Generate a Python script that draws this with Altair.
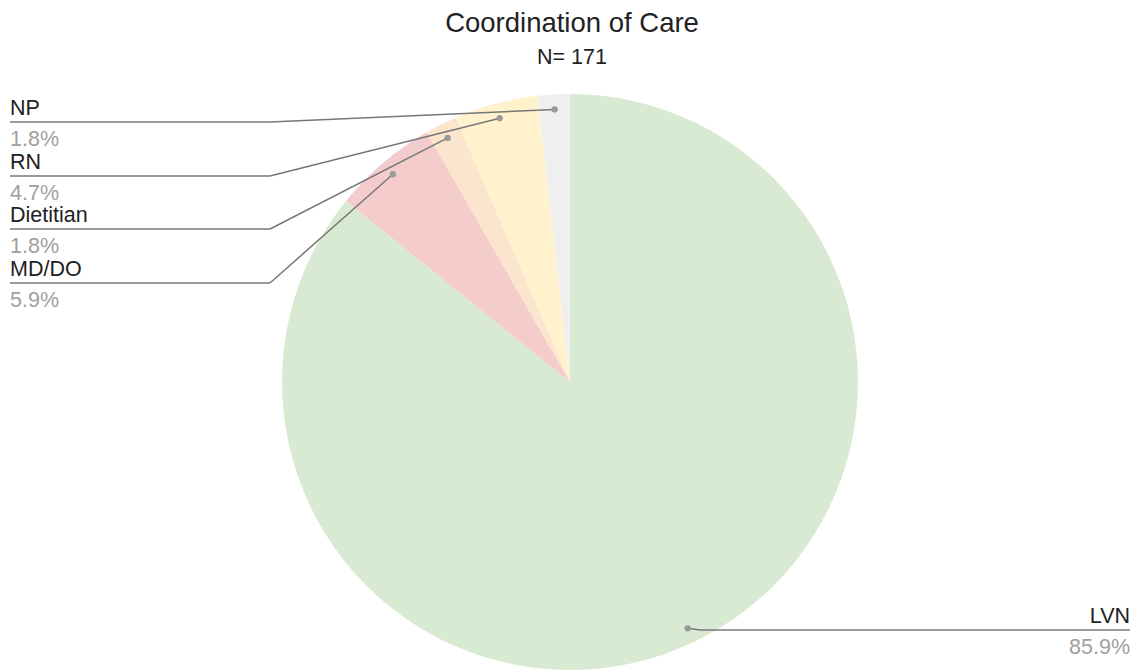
import altair as alt
import pandas as pd

# ---- data ----
categories = ["LVN", "MD/DO", "Dietitian", "RN", "NP"]
percentages = [85.9, 5.9, 1.8, 4.7, 1.8]
colors = ["#d9ead3", "#f4cccc", "#fce5cd", "#fff2cc", "#efefef"]

# ---- label layout (styling, not data) ----
label_side = ["right", "left", "left", "left", "left"]
label_line_y = [630, 283, 229, 176, 122]
knee_x = [700, 270, 270, 270, 270]
end_x = [1130, 10, 10, 10, 10]

W, H, TOP = 1136, 672, 75
CX, CY, R, DOT_R = 570, 382, 288, 273
FONT = "Liberation Sans"
LABEL_SIZE = 21.5

df = pd.DataFrame({
    "category": categories,
    "value": percentages,
    "idx": list(range(len(categories))),
    "side": label_side,
    "ly": label_line_y,
    "kx": knee_x,
    "ex": end_x,
})

xs = alt.Scale(domain=[0, W], nice=False, zero=False)
ys = alt.Scale(domain=[TOP, H], nice=False, zero=False, reverse=True)

base = (
    alt.Chart(df)
    .transform_joinaggregate(total="sum(value)")
    .transform_window(cum="sum(value)", sort=[alt.SortField("idx")], frame=[None, 0])
    .transform_calculate(
        mid="(datum.cum - datum.value / 2) / datum.total * 2 * PI",
        dx=f"{CX} + {DOT_R} * sin(datum.mid)",
        dy=f"{CY} - {DOT_R} * cos(datum.mid)",
        ny="datum.ly - 7.5",
        py="datum.ly + 23.5",
        pct="format(datum.value, '.1f') + '%'",
    )
)

pie = alt.Chart(df).mark_arc(outerRadius=R).encode(
    theta=alt.Theta("value:Q", stack=True),
    order=alt.Order("idx:Q", sort="ascending"),
    color=alt.Color("category:N", scale=alt.Scale(domain=categories, range=colors), legend=None),
    x=alt.value(CX),
    y=alt.value(CY - TOP),
)

X = lambda f: alt.X(f, type="quantitative", scale=xs, axis=None)
Y = lambda f: alt.Y(f, type="quantitative", scale=ys, axis=None)

line_color = "#777777"
seg1 = base.mark_rule(color=line_color, strokeWidth=1.5).encode(
    x=X("dx"), y=Y("dy"), x2="kx:Q", y2="ly:Q"
)
seg2 = base.mark_rule(color=line_color, strokeWidth=1.5).encode(
    x=X("kx"), y=Y("ly"), x2="ex:Q"
)
dots = base.mark_circle(size=40, color="#999999", opacity=1).encode(x=X("dx"), y=Y("dy"))

left = base.transform_filter("datum.side == 'left'")
right = base.transform_filter("datum.side == 'right'")

name_l = left.mark_text(align="left", baseline="alphabetic", fontSize=LABEL_SIZE, font=FONT, color="#222222").encode(
    x=X("ex"), y=Y("ny"), text="category:N")
pct_l = left.mark_text(align="left", baseline="alphabetic", fontSize=LABEL_SIZE, font=FONT, color="#a0a0a0").encode(
    x=X("ex"), y=Y("py"), text="pct:N")
name_r = right.mark_text(align="right", baseline="alphabetic", fontSize=LABEL_SIZE, font=FONT, color="#222222").encode(
    x=X("ex"), y=Y("ny"), text="category:N")
pct_r = right.mark_text(align="right", baseline="alphabetic", fontSize=LABEL_SIZE, font=FONT, color="#a0a0a0").encode(
    x=X("ex"), y=Y("py"), text="pct:N")

chart = (
    alt.layer(pie, seg1, seg2, dots, name_l, pct_l, name_r, pct_r)
    .properties(
        width=W,
        height=H - TOP,
        padding={"left": 0, "right": 0, "top": TOP, "bottom": 0},
        autosize=alt.AutoSizeParams(type="none"),
        title=alt.TitleParams(
            text="Coordination of Care",
            subtitle="N= 171",
            anchor="middle",
            fontSize=27.5,
            subtitleFontSize=21.5,
            font=FONT,
            subtitleFont=FONT,
            fontWeight="normal",
            color="#222222",
            subtitleColor="#222222",
            subtitlePadding=9,
            offset=7,
            dx=4,
        ),
    )
    .configure_view(stroke=None)
)

chart.save("out.html", embed_options={"renderer": "svg", "actions": False})
